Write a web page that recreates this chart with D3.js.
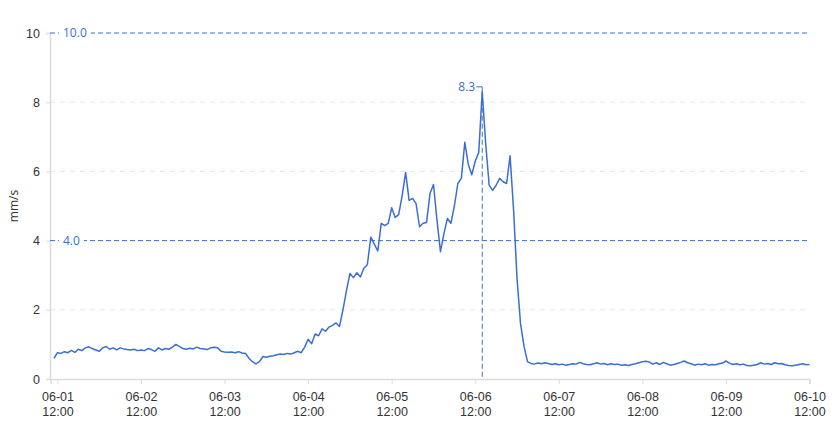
<!DOCTYPE html>
<html><head><meta charset="utf-8">
<script src="https://cdn.jsdelivr.net/npm/d3@7"></script>
<style>
html,body{margin:0;padding:0;background:#fff;}
svg{display:block;font-family:"Open Sans","Noto Sans",sans-serif;}
</style></head>
<body><svg id="c" width="838" height="428"></svg>
<script>
// ---- data ----
const startTime = "2024-06-01T11:00:00";   // hourly readings
const endTime = "2024-06-10T12:00:00";
const values = [
0.6,0.76,0.74,0.79,0.76,0.83,0.77,0.86,0.82,0.9,0.93,0.88,0.84,0.8,0.9,0.94,0.86,0.9,0.84,0.9,
0.87,0.85,0.84,0.86,0.82,0.84,0.82,0.88,0.85,0.8,0.9,0.84,0.88,0.86,0.92,1.0,0.94,0.88,0.86,0.89,
0.87,0.92,0.88,0.87,0.85,0.9,0.92,0.9,0.8,0.78,0.77,0.78,0.76,0.79,0.75,0.74,0.6,0.5,0.44,0.5,
0.65,0.63,0.66,0.67,0.7,0.72,0.71,0.74,0.72,0.76,0.8,0.76,0.92,1.15,1.02,1.3,1.25,1.45,1.38,1.5,
1.55,1.62,1.52,2.0,2.55,3.05,2.93,3.07,2.95,3.2,3.3,4.1,3.9,3.7,4.5,4.43,4.5,4.95,4.67,4.75,
5.3,5.97,5.16,5.22,5.07,4.4,4.5,4.52,5.36,5.62,4.6,3.68,4.2,4.64,4.5,5.0,5.65,5.8,6.84,6.2,
5.9,6.3,6.55,8.3,6.8,5.6,5.45,5.6,5.8,5.7,5.65,6.45,4.9,2.9,1.6,0.95,0.5,0.45,0.43,0.46,
0.44,0.47,0.45,0.42,0.44,0.41,0.43,0.4,0.42,0.44,0.43,0.48,0.44,0.42,0.41,0.44,0.47,0.43,0.45,0.41,
0.44,0.42,0.43,0.4,0.41,0.39,0.42,0.44,0.47,0.5,0.51,0.49,0.43,0.47,0.42,0.48,0.44,0.4,0.42,0.45,
0.48,0.52,0.47,0.44,0.4,0.43,0.41,0.44,0.4,0.42,0.41,0.44,0.46,0.52,0.46,0.42,0.44,0.41,0.43,0.39,
0.38,0.4,0.42,0.47,0.43,0.45,0.42,0.47,0.44,0.45,0.41,0.39,0.38,0.4,0.42,0.44,0.41,0.42
];
const thresholds = [10, 4];
const xTickDates = ["06-01","06-02","06-03","06-04","06-05","06-06","06-07","06-08","06-09","06-10"];
const xTickTime = "12:00";
const yTicks = [0, 2, 4, 6, 8, 10];
const yTitle = "mm/s";

// ---- chart ----
const svg = d3.select("#c");
const blue = "#3a6fd0";
const parse = d3.timeParse("%Y-%m-%dT%H:%M:%S");
const t0 = parse(startTime);
const times = values.map((v, i) => d3.timeHour.offset(t0, i));
const data = values.map((v, i) => ({t: times[i], v}));

const x = d3.scaleTime()
  .domain([d3.timeHour.offset(t0, -1), parse(endTime)])
  .range([50.5, 809.5]);
const y = d3.scaleLinear().domain([0, 10]).range([379, 33]);

// grid lines
svg.append("g").selectAll("line").data(yTicks.filter(d => d > 0 && !thresholds.includes(d)))
  .join("line")
  .attr("x1", 50).attr("x2", 810)
  .attr("y1", d => y(d)).attr("y2", d => y(d))
  .attr("stroke", "#e6e6e6").attr("stroke-width", 1).attr("stroke-dasharray", "5,5");

// y axis
const yAxis = svg.append("g").attr("transform", "translate(50,0)")
  .call(d3.axisLeft(y).tickValues(yTicks).tickSize(4).tickPadding(6).tickFormat(d3.format("d")));
yAxis.select(".domain").attr("stroke", "#dcdcdc").attr("stroke-width", 1.5);
yAxis.selectAll(".tick line").attr("stroke", "#dcdcdc");
yAxis.selectAll("text").attr("fill", "#333").attr("font-size", 12.5);

svg.append("text").attr("transform", "translate(18,206) rotate(-90)")
  .attr("text-anchor", "middle").attr("font-size", 12).attr("fill", "#333").text(yTitle);

// x axis
const tickDates = xTickDates.map(d => parse("2024-" + d + "T12:00:00"));
const xAxis = svg.append("g").attr("transform", "translate(0,379)")
  .call(d3.axisBottom(x).tickValues(tickDates).tickSize(5).tickFormat(""));
xAxis.select(".domain").attr("stroke", "#dcdcdc").attr("stroke-width", 1.5);
xAxis.selectAll(".tick line").attr("stroke", "#dcdcdc");
xAxis.selectAll(".tick").each(function(d, i) {
  const g = d3.select(this);
  const t = g.append("text").attr("fill", "#333").attr("font-size", 12.5).attr("text-anchor", "middle");
  t.append("tspan").attr("x", 0).attr("y", 22).text(xTickDates[i]);
  t.append("tspan").attr("x", 0).attr("y", 37).text(xTickTime);
});

// threshold lines
thresholds.forEach(th => {
  const g = svg.append("g");
  g.append("line").attr("x1", 50).attr("x2", 810)
    .attr("y1", y(th)).attr("y2", y(th))
    .attr("stroke", blue).attr("stroke-width", 1).attr("stroke-dasharray", "5,3");
  const lbl = g.append("text").attr("x", 63).attr("y", y(th)).attr("dy", "0.35em")
    .attr("font-size", 12).attr("fill", blue).text(d3.format(".1f")(th));
  const bb = lbl.node().getBBox();
  g.insert("rect", "text")
    .attr("x", bb.x - 4).attr("y", bb.y).attr("width", bb.width + 8).attr("height", bb.height)
    .attr("fill", "#fff");
});

// peak marker
const peak = data.reduce((a, b) => b.v > a.v ? b : a);
svg.append("line")
  .attr("x1", x(peak.t)).attr("x2", x(peak.t))
  .attr("y1", y(peak.v)).attr("y2", y(0))
  .attr("stroke", blue).attr("stroke-width", 1).attr("stroke-dasharray", "5,3");

// line
svg.append("path").datum(data)
  .attr("fill", "none").attr("stroke", blue).attr("stroke-width", 1.5)
  .attr("stroke-linejoin", "round")
  .attr("d", d3.line().x(d => x(d.t)).y(d => y(d.v)));

// peak label
const py = y(peak.v) - 5;
svg.append("path")
  .attr("d", `M${x(peak.t) - 6},${py}H${x(peak.t)}V${y(peak.v)}`)
  .attr("fill", "none").attr("stroke", blue).attr("stroke-width", 1);
svg.append("text").attr("x", x(peak.t) - 7).attr("y", py).attr("dy", "0.35em")
  .attr("text-anchor", "end").attr("font-size", 12).attr("fill", blue)
  .text(d3.format(".1f")(peak.v));
</script></body></html>
